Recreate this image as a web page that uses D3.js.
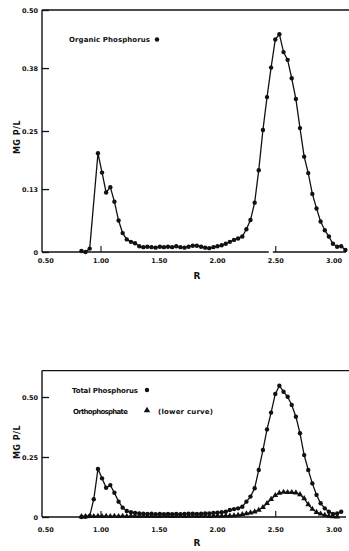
<!DOCTYPE html>
<html>
<head>
<meta charset="utf-8">
<script src="https://cdn.jsdelivr.net/npm/d3@7"></script>
<style>
  html, body { margin: 0; padding: 0; background: #fff; }
  svg { display: block; }
  text { font-family: "DejaVu Sans", sans-serif; fill: #111; }
</style>
</head>
<body>
<svg id="chart" width="349" height="551"></svg>
<script>
// Elution position R for each collected fraction
const R = [0.832, 0.867, 0.903, 0.938, 0.974, 1.009, 1.044, 1.080, 1.115, 1.151,
           1.186, 1.221, 1.257, 1.292, 1.328, 1.363, 1.398, 1.434, 1.469, 1.505,
           1.540, 1.575, 1.611, 1.646, 1.682, 1.717, 1.752, 1.788, 1.823, 1.859,
           1.894, 1.929, 1.965, 2.000, 2.036, 2.071, 2.106, 2.142, 2.177, 2.213,
           2.248, 2.283, 2.319, 2.354, 2.390, 2.425, 2.460, 2.496, 2.531, 2.567,
           2.602, 2.637, 2.673, 2.708, 2.744, 2.779, 2.814, 2.850, 2.885, 2.921,
           2.956, 2.991, 3.027, 3.062, 3.098];

// Organic phosphorus, mg P/L (null = no reading)
const organic = [0.002, 0.000, 0.007, null, 0.204, 0.164, 0.123, 0.134, 0.104, 0.065,
                 0.039, 0.026, 0.021, 0.018, 0.012, 0.010, 0.011, 0.010, 0.009, 0.011,
                 0.010, 0.011, 0.010, 0.012, 0.010, 0.009, 0.011, 0.013, 0.013, 0.011,
                 0.009, 0.008, 0.010, 0.012, 0.014, 0.017, 0.021, 0.025, 0.028, 0.032,
                 0.047, 0.066, 0.102, 0.169, 0.252, 0.320, 0.381, 0.439, 0.450, 0.413,
                 0.397, 0.359, 0.316, 0.256, 0.197, 0.163, 0.120, 0.090, 0.063, 0.045,
                 0.032, 0.017, 0.011, 0.012, 0.004];

// Total phosphorus, mg P/L
const totalP = [0.000, 0.001, 0.004, 0.074, 0.200, 0.161, 0.122, 0.133, 0.101, 0.064,
                0.039, 0.025, 0.020, 0.017, 0.015, 0.014, 0.013, 0.014, 0.012, 0.013,
                0.012, 0.013, 0.012, 0.013, 0.012, 0.013, 0.014, 0.014, 0.013, 0.014,
                0.015, 0.015, 0.017, 0.018, 0.020, 0.022, 0.029, 0.033, 0.036, 0.043,
                0.064, 0.085, 0.120, 0.196, 0.279, 0.365, 0.435, 0.513, 0.547, 0.522,
                0.501, 0.467, 0.418, 0.349, 0.258, 0.196, 0.140, 0.092, 0.057, 0.036,
                0.022, 0.013, 0.015, 0.022];

// Orthophosphate, mg P/L
const ortho = [0.002, 0.002, 0.003, 0.003, 0.004, 0.003, 0.004, 0.003, 0.004, 0.003,
               0.004, 0.003, 0.004, 0.004, 0.003, 0.004, 0.003, 0.004, 0.004, 0.003,
               0.004, 0.004, 0.003, 0.004, 0.004, 0.003, 0.004, 0.004, 0.003, 0.004,
               0.004, 0.003, 0.004, 0.004, 0.004, 0.005, 0.005, 0.006, 0.008, 0.011,
               0.014, 0.018, 0.022, 0.029, 0.040, 0.057, 0.074, 0.090, 0.100, 0.104,
               0.103, 0.103, 0.101, 0.094, 0.077, 0.052, 0.033, 0.020, 0.013, 0.008,
               0.004, 0.002, 0.001];

const xTicks = [0.5, 1.0, 1.5, 2.0, 2.5, 3.0];
const xTickLabels = ["0.50", "1.00", "1.50", "2.00", "2.50", "3.00"];
const xMarks = [1.0, 2.5];
const topYTicks = [0, 0.13, 0.25, 0.38, 0.50];
const topYTickLabels = ["0", "0.13", "0.25", "0.38", "0.50"];
const botYTicks = [0, 0.25, 0.50];
const botYTickLabels = ["0", "0.25", "0.50"];

const svg = d3.select("#chart");
const ink = "#111";

const x = d3.scaleLinear().domain([0.5, 3.0]).range([42.75, 334]);
const xEnd = 346;

function pts(values) {
  return values.map((v, i) => ({ r: R[i], v })).filter(d => d.v !== null);
}

function legendText(g, str, lx, ly, width) {
  return g.append("text").attr("x", lx).attr("y", ly)
    .attr("font-size", 7).attr("font-weight", "bold")
    .attr("textLength", width).attr("lengthAdjust", "spacing").text(str);
}

function panel(opts) {
  const { y, yTicks, yLabels, top, bottom, axisGap, tickLabelDy, labelY, ylabelMid } = opts;
  const g = svg.append("g");

  // y axis with inward ticks
  const yAxis = d3.axisLeft(y).tickValues(yTicks)
    .tickFormat((d, i) => yLabels[i]).tickSizeInner(-7).tickSizeOuter(0).tickPadding(4);
  const ya = g.append("g").attr("transform", "translate(42,0)").call(yAxis);
  ya.selectAll("line").attr("stroke", ink).attr("stroke-width", 1.3);
  ya.selectAll("text").attr("font-size", 6.5).attr("font-weight", "bold")
    .style("font-family", "'DejaVu Sans', sans-serif").attr("fill", ink);
  ya.select(".domain").remove();
  g.append("line").attr("x1", 42).attr("x2", 42).attr("y1", top).attr("y2", bottom)
    .attr("stroke", ink).attr("stroke-width", 1.4);
  // top border
  g.append("line").attr("x1", 42).attr("x2", 349).attr("y1", top).attr("y2", top)
    .attr("stroke", ink).attr("stroke-width", 1.4);

  // x axis baseline (optionally broken just left of 2.50)
  if (axisGap) {
    g.append("line").attr("x1", 42).attr("x2", x(axisGap[0])).attr("y1", bottom).attr("y2", bottom)
      .attr("stroke", ink).attr("stroke-width", 1.3);
    g.append("line").attr("x1", x(axisGap[1])).attr("x2", xEnd).attr("y1", bottom).attr("y2", bottom)
      .attr("stroke", ink).attr("stroke-width", 1.3);
  } else {
    g.append("line").attr("x1", 42).attr("x2", xEnd).attr("y1", bottom).attr("y2", bottom)
      .attr("stroke", ink).attr("stroke-width", 1.3);
  }
  g.selectAll(".xmark").data(xMarks).join("line")
    .attr("x1", d => x(d)).attr("x2", d => x(d))
    .attr("y1", bottom).attr("y2", bottom - 6)
    .attr("stroke", ink).attr("stroke-width", 1.1);

  g.selectAll(".xlab").data(xTicks).join("text")
    .attr("x", d => x(d) + (d === 0.5 ? 3 : 0)).attr("y", bottom + tickLabelDy)
    .attr("text-anchor", "middle").attr("font-size", 6.5).attr("font-weight", "bold")
    .text((d, i) => xTickLabels[i]);

  g.append("text").attr("x", 197).attr("y", labelY)
    .attr("text-anchor", "middle").attr("font-size", 9).attr("font-weight", "bold").text("R");

  g.append("text").attr("transform", `translate(20,${ylabelMid}) rotate(-90)`)
    .attr("text-anchor", "middle").attr("font-size", 8).attr("font-weight", "bold")
    .attr("letter-spacing", 0.5).text("MG  P/L");
  return g;
}

function series(g, y, values, marker) {
  const data = pts(values);
  const line = d3.line().x(d => x(d.r)).y(d => y(d.v));
  g.append("path").datum(data).attr("d", line)
    .attr("fill", "none").attr("stroke", ink).attr("stroke-width", 1.3);
  if (marker === "circle") {
    g.selectAll(null).data(data).join("circle")
      .attr("cx", d => x(d.r)).attr("cy", d => y(d.v)).attr("r", 2.2).attr("fill", ink);
  } else {
    const tri = d3.symbol().type(d3.symbolTriangle).size(15);
    g.selectAll(null).data(data).join("path")
      .attr("transform", d => `translate(${x(d.r)},${y(d.v)})`).attr("d", tri).attr("fill", ink);
  }
}

// ---- Organic phosphorus panel ----
const yTop = d3.scaleLinear().domain([0, 0.5]).range([252, 10]);
const gTop = panel({ y: yTop, yTicks: topYTicks, yLabels: topYTickLabels, top: 10, bottom: 252,
                     axisGap: [2.44, 2.475], tickLabelDy: 11, labelY: 279, ylabelMid: 137 });
series(gTop, yTop, organic, "circle");
legendText(gTop, "Organic  Phosphorus", 69, 42, 81);
gTop.append("circle").attr("cx", 157).attr("cy", 39.5).attr("r", 2.2).attr("fill", ink);

// ---- Total phosphorus / orthophosphate panel ----
const yBot = d3.scaleLinear().domain([0, 0.61]).range([517, 370.6]);
const gBot = panel({ y: yBot, yTicks: botYTicks, yLabels: botYTickLabels, top: 370.6, bottom: 517,
                     axisGap: null, tickLabelDy: 15, labelY: 546, ylabelMid: 442 });
series(gBot, yBot, ortho, "triangle");
series(gBot, yBot, totalP, "circle");
legendText(gBot, "Total  Phosphorus", 72, 393, 66);
gBot.append("circle").attr("cx", 147).attr("cy", 390).attr("r", 2.2).attr("fill", ink);
legendText(gBot, "Orthophosphate", 73, 414, 55);
gBot.append("path").attr("transform", "translate(147,410.5)")
  .attr("d", d3.symbol().type(d3.symbolTriangle).size(18)).attr("fill", ink);
legendText(gBot, "(lower  curve)", 158, 414, 55);
</script>
</body>
</html>
